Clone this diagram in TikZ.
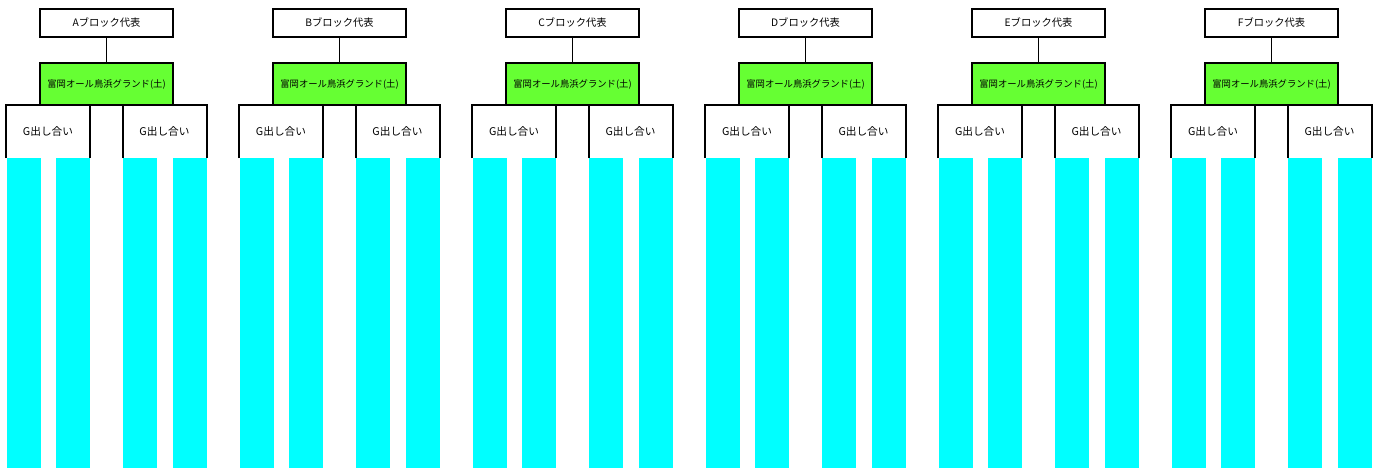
\documentclass[tikz,border=0pt]{standalone}
\usepackage{fontspec}
\setmainfont{Noto Sans CJK JP}
\usepackage{tikz}
\definecolor{gndgreen}{RGB}{102,255,51}
\definecolor{barcyan}{RGB}{0,255,255}

\begin{document}
\begin{tikzpicture}[x=0.75pt,y=-0.75pt]
    \tikzstyle{every node}=[inner sep=0pt,outer sep=0pt]
    \tikzstyle{rep}=[draw,line width=1.5pt,minimum width=99.75pt,minimum height=21pt,font=\fontsize{7.7}{9}\selectfont]
    \tikzstyle{gnd}=[rep,fill=gndgreen,minimum height=31.5pt,font=\fontsize{7}{8}\selectfont]
    \tikzstyle{match}=[minimum width=63pt,minimum height=39.75pt,font=\fontsize{8}{10}\selectfont]
    \tikzstyle{bar}=[fill=barcyan,minimum width=25.5pt,minimum height=232.5pt]
    \useasboundingbox (0,0) rectangle (1380,468);
    \foreach \L [count=\i from 0] in {A,B,C,D,E,F} {
        \pgfmathsetmacro{\ox}{40+233*\i}
        \node[bar] (bar\L1) at (\ox-16.5,313) {};
        \node[bar] (bar\L2) at (\ox+33,313) {};
        \node[bar] (bar\L3) at (\ox+100,313) {};
        \node[bar] (bar\L4) at (\ox+150,313) {};
        \node[match] (gl\L) at (\ox+8,131.5) {G出し合い};
        \node[match] (gr\L) at (\ox+124.5,131.5) {G出し合い};
        \draw[line width=1.5pt] (gl\L.south west) |- (gl\L.north east) -- (gl\L.south east);
        \draw[line width=1.5pt] (gr\L.south west) |- (gr\L.north east) -- (gr\L.south east);
        \node[rep] (rep\L) at (\ox+66.5,23) {\L ブロック代表};
        \node[gnd] (gnd\L) at (\ox+66.5,84) {富岡オール鳥浜グランド(土)};
        \draw[line width=0.8pt] (rep\L) -- (gnd\L);
    }
\end{tikzpicture}
\end{document}
